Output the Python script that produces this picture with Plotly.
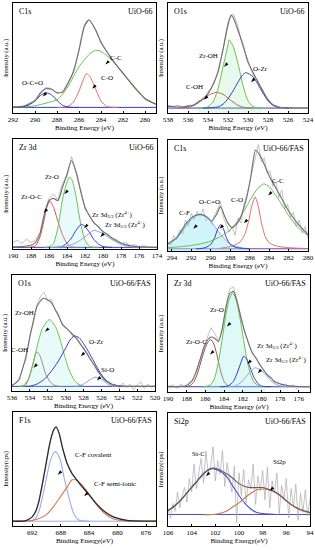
import plotly.graph_objects as go

W, H = 315, 550
SERIF = "Liberation Serif, Times New Roman, serif"

# ---------------- Panel 1: C1s UiO-66 ----------------
p1_env_x = [292, 291, 290, 289.5, 289, 288.5, 288, 287.5, 287, 286.5, 286, 285.5, 285.1, 284.5, 284, 283, 282, 281, 280, 279]
p1_env_y = [5.3, 6.2, 11, 18, 22, 21.5, 18.5, 19, 27, 38, 57, 79, 84.5, 76, 64, 49, 36, 24, 13, 8]
p1_raw_y = [5.5, 6.5, 12, 19, 23, 22, 18, 19.5, 28, 37, 58, 80, 85, 75, 65, 48, 37, 23, 13.5, 8]
p1_cc_x = [292, 291, 290, 289, 288, 287.5, 287, 286, 285, 284.5, 284, 283, 282, 281, 280, 279]
p1_cc_y = [5.2, 5.5, 6.5, 9, 12, 17, 24, 42, 54, 57, 56, 48, 36, 24, 13, 8]
p1_co_x = [288, 287.5, 287, 286.5, 286, 285.5, 285.3, 285, 284.5, 284, 283.5, 283, 282.5]
p1_co_y = [5.1, 5.1, 6, 10, 20, 33, 35.8, 33, 22, 11, 6, 5.2, 5.1]
p1_occ_x = [292, 291.5, 291, 290.5, 290, 289.5, 289, 288.5, 288, 287.5, 287, 286.5, 286]
p1_occ_y = [5.1, 5.2, 5.8, 7.5, 11, 16, 18.5, 16.5, 11.5, 7, 5.5, 5.1, 5.1]
p1_base = 5.1

# ---------------- Panel 2: O1s UiO-66 ----------------
p2_env_x = [538, 537.5, 537, 536.5, 536, 535.5, 535, 534.5, 534, 533.5, 533, 532.5, 532, 531.7, 531.5, 531, 530.5, 530, 529.5, 529, 528.5, 528, 527.5, 527, 526.5, 526, 525.5, 525, 524.5, 524]
p2_env_y = [6, 5.8, 5.5, 5.6, 6, 7, 9.5, 13, 17.5, 26, 37, 58, 80, 88.7, 87, 75, 62, 46, 37, 28, 20, 12, 7.5, 5.4, 5, 4.7, 4.6, 4.5, 4.5, 4.5]
p2_raw_y = [7, 6, 7, 5, 7, 7, 11, 12, 19, 25, 39, 57, 82, 89, 90, 78, 60, 48, 35, 29, 19, 13, 7, 6, 4, 5, 4, 5, 4, 5]
p2_zroh_x = [535, 534.5, 534, 533.5, 533, 532.5, 532, 531.9, 531.5, 531, 530.5, 530, 529.5, 529, 528.5]
p2_zroh_y = [4.5, 4.6, 5.5, 10, 22, 42, 62, 66.6, 61, 45, 25, 11, 6, 4.7, 4.5]
p2_ozr_x = [534.5, 534, 533.5, 533, 532.5, 532, 531.5, 531, 530.5, 530.2, 529.5, 529, 528.5, 528, 527.5, 527, 526.5, 526]
p2_ozr_y = [4.5, 4.6, 5, 5.5, 8, 13, 20, 28, 35, 36.7, 33, 26, 18, 11, 7, 5.2, 4.7, 4.5]
p2_coh_x = [537, 536.5, 536, 535.5, 535, 534.5, 534, 533.2, 532.5, 532, 531.5, 531, 530.5, 530, 529.5]
p2_coh_y = [4.5, 4.6, 5.2, 6.5, 9, 12.5, 16, 18.8, 17, 13.5, 10, 7, 5.3, 4.7, 4.5]
p2_base = 4.5

# ---------------- Panel 3: Zr 3d UiO-66 ----------------
p3_env_x = [190, 189.5, 189, 188.5, 188, 187.5, 187, 186.5, 186, 185.5, 185, 184.5, 184, 183.5, 183, 182.5, 182, 181.5, 181, 180.5, 180, 179.5, 179, 178.5, 178, 177.5, 177, 176.5, 176, 175.5, 175, 174.5, 174]
p3_env_y = [2, 2.1, 2.3, 2.8, 3.5, 6, 14, 32, 44, 46, 44, 56, 68, 80.5, 70, 53, 38, 30, 24, 20, 16, 13, 10, 7.5, 5.5, 4, 3, 2.4, 2, 1.8, 1.6, 1.5, 1.5]
p3_raw_y = [6, 8, 5, 9, 6, 8, 15, 33, 46, 50, 45, 60, 66, 84, 71, 55, 36, 31, 23, 21, 15, 14, 9, 9, 5, 6, 3, 4, 2, 3, 2, 2, 1]
p3_zroc_x = [188.5, 188, 187.5, 187, 186.5, 186.2, 185.9, 185.5, 185, 184.5, 184, 183.5, 183]
p3_zroc_y = [1.5, 1.7, 3, 11, 28, 39, 43.5, 38, 25, 13, 5, 2, 1.5]
p3_zro_x = [186.5, 186, 185.5, 185, 184.5, 184, 183.7, 183.4, 183, 182.5, 182, 181.5, 181, 180.5]
p3_zro_y = [1.5, 2, 5, 20, 45, 61, 65.5, 62, 48, 24, 8, 2.5, 1.6, 1.5]
p3_d32_x = [185.5, 185, 184.5, 184, 183.5, 183, 182.4, 182, 181.5, 181, 180.5, 180, 179.5, 179]
p3_d32_y = [1.5, 1.6, 2.5, 5.5, 10, 17, 22.5, 20.5, 15, 8.5, 4.5, 2.3, 1.7, 1.5]
p3_d52_x = [186, 185, 184, 183, 182, 181, 180, 179, 178, 177, 176, 175]
p3_d52_y = [1.5, 1.6, 2.7, 5.5, 11, 17, 14, 8.5, 4.2, 2.1, 1.6, 1.5]
p3_base = 1.5

# ---------------- Panel 4: C1s UiO-66/FAS ----------------
p4_env_x = [294.4, 293.5, 292.6, 291.8, 291.1, 290.5, 289.9, 289.4, 289.0, 288.6, 288.3, 287.8, 287.1, 286.4, 285.9, 285.7, 285.4, 285.0, 284.7, 283.9, 283, 282, 280.9, 280]
p4_env_y = [6.5, 12, 24, 31, 33, 31, 27, 33, 40, 32, 26, 21, 27, 45, 66, 78, 91, 87, 82, 66, 52, 36, 23, 15]
p4_raw_x = [294.4, 294.1, 293.8, 293.5, 293.2, 292.9, 292.6, 292.3, 292.0, 291.7, 291.4, 291.1, 290.8, 290.5, 290.2, 289.9, 289.6, 289.3, 289.0, 288.7, 288.4, 288.1, 287.8, 287.5, 287.2, 286.9, 286.6, 286.3, 286.0, 285.7, 285.4, 285.1, 284.8, 284.5, 284.2, 283.9, 283.6, 283.3, 283.0, 282.7, 282.4, 282.1, 281.8, 281.5, 281.2, 280.9, 280.6, 280.3, 280.0]
p4_raw_y = [8, 5, 14, 10, 19, 15, 28, 22, 34, 28, 36, 31, 38, 27, 30, 24, 33, 37, 44, 30, 24, 17, 22, 14, 30, 25, 42, 50, 62, 74, 85, 96, 80, 84, 70, 72, 58, 62, 48, 55, 38, 42, 30, 35, 22, 28, 16, 22, 12]
p4_cf_x = [294.4, 294, 293.5, 293, 292.5, 292, 291.5, 291.1, 290.5, 290, 289.5, 289, 288.5, 288, 287.5, 287, 286.5, 286]
p4_cf_y = [6, 8, 12, 17, 23, 28.5, 32, 33, 31.5, 27, 21, 15, 10, 6.5, 4.5, 3.2, 2.5, 2.1]
p4_occ_x = [291.5, 291, 290.5, 290, 289.6, 289.3, 289.0, 288.7, 288.4, 288, 287.5, 287, 286.5, 286]
p4_occ_y = [2, 2.3, 3.2, 6, 12, 19.5, 23.7, 20, 12, 6, 3.5, 2.6, 2.2, 2]
p4_co_x = [289, 288.5, 288, 287.5, 287, 286.5, 286.1, 285.8, 285.45, 285.1, 284.8, 284.4, 284, 283.5, 283, 282, 281, 280]
p4_co_y = [2.5, 3.2, 4, 5.5, 8, 15, 27, 40, 48.7, 40, 26, 13, 7.5, 5.2, 4, 3, 2.5, 2.2]
p4_cc_x = [294.4, 293, 292, 291, 290, 289, 288, 287, 286, 285.3, 284.55, 284, 283.3, 282.5, 282, 281, 280]
p4_cc_y = [3, 4, 5, 6.5, 9, 13, 19, 30, 45, 55, 60.5, 58, 50, 39, 32, 21, 14]
p4_base = 2

# ---------------- Panel 5: O1s UiO-66/FAS ----------------
p5_env_x = [536, 535.3, 534.5, 533.9, 533.2, 532.5, 531.7, 531, 530.3, 529.5, 528.75, 527.6, 526.7, 525.8, 524.8, 524, 522, 520]
p5_env_y = [4.5, 9, 28, 50, 73, 80, 77, 68, 57, 51, 45, 32, 21, 11, 5.5, 4.2, 4, 4]
p5_raw_x = [536, 535.6, 535.2, 534.8, 534.4, 534.0, 533.6, 533.2, 532.8, 532.4, 532.0, 531.6, 531.2, 530.8, 530.4, 530.0, 529.6, 529.2, 528.8, 528.4, 528.0, 527.6, 527.2, 526.8, 526.4, 526.0, 525.6, 525.2, 524.8, 524.4, 524.0, 523.6, 523.2, 522.8, 522.4, 522.0, 521.6, 521.2, 520.8, 520.4, 520.0]
p5_raw_y = [5, 7, 9, 20, 28, 49, 58, 75, 82, 85, 78, 79, 70, 66, 57, 55, 52, 47, 46, 40, 38, 33, 26, 23, 16, 14, 8, 8, 4, 6, 2, 7, 3, 6, 1, 5, 8, 2, 6, 3, 5]
p5_zroh_x = [535.2, 534.7, 534.2, 533.7, 533.2, 532.6, 531.8, 531.1, 530.6, 530.1, 529.6, 529, 528.5, 528]
p5_zroh_y = [4, 5, 10, 22, 38, 54, 61.7, 55, 44, 30, 18, 9, 5.5, 4.2]
p5_coh_x = [535, 534.5, 534.1, 533.7, 533.4, 533.2, 532.9, 532.6, 532.2, 531.7, 531.2, 530.7]
p5_coh_y = [4, 5, 11, 22, 31, 33.7, 31, 24, 14, 7.5, 4.8, 4]
p5_ozr_x = [534.5, 534, 533.2, 532.4, 531.6, 530.8, 530, 529.5, 529.05, 528.5, 528, 527.3, 526.6, 525.9, 525.2, 524.5, 523.5]
p5_ozr_y = [4, 4.2, 6, 10, 17, 26, 37, 44, 47.5, 46, 41, 32, 22, 13, 7.5, 5, 4.1]
p5_sio_x = [529, 528.6, 528, 527.5, 527, 526.7, 526.3, 525.8, 525.3, 525, 524.5, 524]
p5_sio_y = [4, 4.3, 6, 8.5, 11, 12, 11.3, 9, 6, 4.8, 4.1, 4]
p5_base = 4

# ---------------- Panel 6: Zr 3d UiO-66/FAS ----------------
p6_env_x = [190, 189.4, 189.0, 188.6, 188.2, 187.8, 187.4, 187.0, 186.6, 186.2, 185.8, 185.4, 185.0, 184.6, 184.2, 183.8, 183.4, 183.0, 182.6, 182.2, 181.8, 181.4, 181.0, 180.6, 180.2, 179.8, 179.4, 179.0, 178.6, 178.2, 177.8, 177.4, 177.0, 176.6, 176.2, 175.8, 175.4, 174.8]
p6_env_y = [4.5, 4.5, 4.6, 4.8, 5.2, 6.5, 10, 17, 27, 37, 44, 47, 46, 43, 54, 72, 84, 86, 77, 64, 52, 42, 34, 29, 24, 19, 15, 12, 9, 7.5, 6.5, 5.8, 5.2, 5, 4.8, 4.6, 4.5, 4.5]
p6_raw_y = [5, 6, 3, 7, 4, 8, 9, 18, 26, 38, 46, 55, 50, 44, 52, 74, 88, 90, 78, 65, 51, 43, 33, 30, 23, 20, 14, 13, 8, 8, 5, 7, 4, 6, 3, 5, 4, 5]
p6_zroc_x = [188.2, 187.6, 187.2, 186.8, 186.4, 186, 185.7, 185.4, 185.1, 184.8, 184.4, 184, 183.6, 183]
p6_zroc_y = [4.5, 5.5, 9, 17, 28, 38, 43, 44.8, 41, 33, 19, 9, 5.5, 4.5]
p6_zro_x = [186.2, 185.8, 185.4, 185, 184.6, 184.2, 183.8, 183.4, 183.1, 182.8, 182.4, 182, 181.6, 181.2, 180.8, 180.2, 179.6]
p6_zro_y = [4.5, 5, 6.5, 12, 26, 45, 66, 80, 84.4, 81, 68, 49, 30, 16, 8.5, 5, 4.5]
p6_d32_x = [184.4, 184, 183.5, 183, 182.6, 182.2, 181.9, 181.6, 181.2, 180.8, 180.4, 180, 179.5, 179]
p6_d32_y = [4.5, 4.6, 5.5, 9, 16, 25, 30.6, 28.5, 21, 12.5, 7.5, 5.2, 4.6, 4.5]
p6_d52_x = [183.6, 183.2, 182.8, 182.3, 181.8, 181.3, 180.7, 180.1, 179.6, 179.1, 178.6, 178.1, 177.5, 177]
p6_d52_y = [4.5, 4.7, 5.2, 7.5, 11.5, 16.5, 20.7, 19, 15, 10.5, 7.2, 5.4, 4.7, 4.5]
p6_base = 4.5

# ---------------- Panel 7: F1s UiO-66/FAS ----------------
p7_env_x = [694.7, 693, 692, 691.5, 691.1, 690.6, 690.1, 689.7, 689.4, 689, 688.64, 688.2, 687.8, 687.4, 687.1, 686.4, 685.8, 685.2, 684.1, 682.9, 681.7, 680.6, 678.7, 676, 674.6]
p7_env_y = [4.2, 4.6, 8, 13, 20.7, 36, 53, 67, 76, 84, 87, 81, 70, 61, 55, 46, 41, 36, 28, 19, 12, 8, 5, 4.3, 4.2]
p7_cov_x = [693, 692.5, 692, 691.5, 691, 690.5, 690, 689.5, 689, 688.8, 688.5, 688, 687.5, 687, 686.5, 686, 685.5, 685, 684.5, 684]
p7_cov_y = [4.2, 4.3, 4.8, 7, 14, 27, 42, 56, 64, 65, 64, 57, 42, 29, 17, 9, 5.5, 4.5, 4.3, 4.2]
p7_semi_x = [694.7, 693, 692, 691, 690, 689, 688, 687, 686.4, 685.7, 685, 684, 683, 682, 681, 680, 679, 678, 676, 674.6]
p7_semi_y = [4.2, 4.3, 4.8, 6.5, 10, 17, 26, 35, 40.5, 40, 36, 28, 19, 12, 7.5, 5.2, 4.4, 4.2, 4.2, 4.2]
p7_base = 4.2

# ---------------- Panel 8: Si2p UiO-66/FAS ----------------
p8_env_x = [106, 105.5, 105, 104.5, 104, 103.5, 103, 102.5, 102.2, 101.8, 101.5, 101, 100.5, 100, 99.5, 99, 98.5, 98, 97.5, 97, 96.5, 96, 95.5, 95, 94.5, 94]
p8_env_y = [13.5, 17.5, 22, 28, 34.5, 40.5, 46.5, 50.5, 51.2, 50.5, 49, 46, 42, 37.5, 35, 34, 34, 34, 32.5, 30.5, 27, 22.5, 18.5, 15.5, 13.5, 12]
p8_raw_x = [106.0, 105.8, 105.6, 105.4, 105.2, 105.0, 104.8, 104.6, 104.4, 104.2, 104.0, 103.8, 103.6, 103.4, 103.2, 103.0, 102.8, 102.6, 102.4, 102.2, 102.0, 101.8, 101.6, 101.4, 101.2, 101.0, 100.8, 100.6, 100.4, 100.2, 100.0, 99.8, 99.6, 99.4, 99.2, 99.0, 98.8, 98.6, 98.4, 98.2, 98.0, 97.8, 97.6, 97.4, 97.2, 97.0, 96.8, 96.6, 96.4, 96.2, 96.0, 95.8, 95.6, 95.4, 95.2, 95.0, 94.8, 94.6, 94.4, 94.2, 94.0]
p8_raw_y = [16, 7, 20, 13, 30, 16, 27, 34, 21, 42, 30, 55, 33, 48, 60, 38, 66, 47, 52, 70, 40, 58, 46, 67, 35, 56, 44, 30, 53, 3, 47, 27, 50, 20, 41, 33, 55, 19, 44, 31, 49, 23, 52, 16, 40, 29, 47, 11, 36, 24, 42, 7, 33, 17, 37, 5, 29, 12, 32, 9, 24]
p8_sic_x = [106, 105.5, 105, 104.5, 104, 103.5, 103, 102.5, 102.2, 101.5, 101, 100.5, 100, 99.5, 99, 98.5, 98, 97.5, 97]
p8_sic_y = [13.5, 17, 22, 28, 34, 40, 46, 50, 50.7, 48, 43, 35, 27, 20, 15, 12, 11, 10.6, 10.4]
p8_si2p_x = [103, 102.5, 102, 101.5, 101, 100.5, 100, 99.5, 99, 98.5, 98, 97.5, 97, 96.5, 96, 95.5, 95, 94.5, 94]
p8_si2p_y = [10, 10.1, 10.4, 11.5, 13.5, 17, 20.5, 25, 29, 32, 32.8, 32, 30, 26.5, 22, 18, 15, 13, 11.5]
p8_base = 10.2

# ---------------- colours ----------------
ENV = "#6f6f6f"
RAW = "#b4b4b4"
GREEN = "#66c24a"
RED = "#e06a6a"
BROWN = "#b8684a"
BLUE = "#3a3ac8"
LBLUE = "#84a8e6"

SUB32 = "Zr 3d<sub>3/2</sub> (Zr<sup>4+</sup>)"
SUB52 = "Zr 3d<sub>5/2</sub> (Zr<sup>4+</sup>)"

panels = [
    dict(box=(13, 3, 156, 113), xr=[292, 279], dtick=2, name="C1s", sample="UiO-66", ytitle="Intensity (a.u.)",
         base=(p1_base, BLUE),
         traces=[(p1_env_x, p1_raw_y, RAW, 1.0, None, False), (p1_cc_x, p1_cc_y, GREEN, 1.0, None, False),
                 (p1_co_x, p1_co_y, RED, 1.0, None, False), (p1_occ_x, p1_occ_y, BLUE, 1.0, None, False),
                 (p1_env_x, p1_env_y, ENV, 1.1, None, False)],
         labels=[("O-C=O", 290.2, 27, 289.3, 15), ("C-C", 282.6, 50, 283.6, 44), ("C-O", 283.5, 32, 284.8, 22)]),
    dict(box=(168, 3, 308, 113), xr=[538, 524], dtick=2, name="O1s", sample="UiO-66", ytitle="Intensity (a.u.)",
         base=(p2_base, BLUE),
         traces=[(p2_env_x, p2_raw_y, RAW, 1.0, None, False), (p2_zroh_x, p2_zroh_y, GREEN, 1.0, "rgba(150,230,170,0.22)", False),
                 (p2_coh_x, p2_coh_y, BROWN, 1.0, None, False), (p2_ozr_x, p2_ozr_y, BLUE, 1.0, None, False),
                 (p2_env_x, p2_env_y, ENV, 1.1, None, False)],
         labels=[("Zr-OH", 534.0, 52, 532.4, 42), ("C-OH", 535.4, 24, 534.4, 12), ("O-Zr", 528.8, 40, 529.7, 28)]),
    dict(box=(13, 139, 157, 249), xr=[190, 174], dtick=2, name="Zr 3d", sample="UiO-66", ytitle="Intensity (a.u.)",
         base=(p3_base, BLUE),
         traces=[(p3_env_x, p3_raw_y, RAW, 0.9, None, True), (p3_zroc_x, p3_zroc_y, "#e04848", 1.0, None, False),
                 (p3_zro_x, p3_zro_y, GREEN, 1.0, "rgba(150,235,230,0.22)", False), (p3_d32_x, p3_d32_y, BLUE, 1.0, None, False),
                 (p3_d52_x, p3_d52_y, LBLUE, 1.0, None, False), (p3_env_x, p3_env_y, ENV, 1.1, None, False)],
         labels=[("Zr-O", 185.7, 65, 184.3, 50), ("Zr-O-C", 187.9, 47, 186.6, 33),
                 (SUB32, 178.9, 31, 182.1, 19), (SUB52, 177.5, 22, 180.3, 11)]),
    dict(box=(168, 140, 308, 251), xr=[294.4, 280], dtick=2, name="C1s", sample="UiO-66/FAS", ytitle="Intensity (a.u.)",
         base=(p4_base, "#7a3fbf"),
         traces=[(p4_raw_x, p4_raw_y, RAW, 0.8, None, True), (p4_cf_x, p4_cf_y, LBLUE, 1.0, "rgba(150,230,240,0.45)", False),
                 (p4_occ_x, p4_occ_y, BLUE, 1.0, None, False), (p4_co_x, p4_co_y, RED, 1.0, None, False),
                 (p4_cc_x, p4_cc_y, GREEN, 1.0, None, False), (p4_env_x, p4_env_y, ENV, 1.1, None, False)],
         labels=[("C-F", 292.7, 34, 291.8, 20), ("O-C=O", 290.1, 44, 289.1, 20),
                 ("C-O", 287.3, 46, 286.6, 25), ("C-C", 283.1, 63, 284.1, 50)]),
    dict(box=(12, 275, 155, 391), xr=[536, 520], dtick=2, name="O1s", sample="UiO-66/FAS", ytitle="Intensity (a.u.)",
         base=(p5_base, BLUE),
         traces=[(p5_raw_x, p5_raw_y, RAW, 0.8, None, True), (p5_coh_x, p5_coh_y, BROWN, 1.0, None, False),
                 (p5_zroh_x, p5_zroh_y, GREEN, 1.0, "rgba(150,235,230,0.22)", False), (p5_ozr_x, p5_ozr_y, BLUE, 1.0, None, False),
                 (p5_sio_x, p5_sio_y, LBLUE, 1.0, None, False), (p5_env_x, p5_env_y, ENV, 1.1, None, False)],
         labels=[("Zr-OH", 534.6, 67, 532.3, 51), ("C-OH", 535.2, 35, 533.6, 20),
                 ("O-Zr", 526.5, 42, 528.3, 30), ("Si-O", 525.3, 18, 526.5, 9)]),
    dict(box=(168, 275, 310, 392), xr=[190, 174.8], dtick=2, name="Zr 3d", sample="UiO-66/FAS", ytitle="Intensity (a.u.)",
         base=(p6_base, BLUE),
         traces=[(p6_env_x, p6_raw_y, RAW, 0.8, None, True), (p6_zroc_x, p6_zroc_y, "#9a4a3e", 1.0, None, False),
                 (p6_zro_x, p6_zro_y, GREEN, 1.0, "rgba(150,235,230,0.3)", False), (p6_d32_x, p6_d32_y, BLUE, 1.0, None, False),
                 (p6_d52_x, p6_d52_y, LBLUE, 1.0, None, False), (p6_env_x, p6_env_y, ENV, 1.1, None, False)],
         labels=[("Zr-O", 184.8, 70, 183.7, 56), ("Zr-O-C", 187.0, 43, 185.5, 32),
                 (SUB32, 178.3, 40, 181.5, 24), (SUB52, 177.3, 28, 180.4, 16)]),
    dict(box=(13, 412, 156, 526), xr=[694.7, 674.6], dtick=4, name="F1s", sample="UiO-66/FAS", ytitle="Intensity(cps)",
         base=(p7_base, "#9aaaf0"),
         traces=[(p7_env_x, p7_env_y, RAW, 0.8, None, False), (p7_cov_x, p7_cov_y, "#9aaaf0", 1.1, None, False),
                 (p7_semi_x, p7_semi_y, "#d9784a", 1.1, None, False), (p7_env_x, p7_env_y, "#2a2a2a", 1.3, None, False)],
         labels=[("C-F covalent", 683.5, 62, 688.4, 45), ("C-F semi-ionic", 680.4, 37, 684.7, 26)]),
    dict(box=(168, 413, 310, 526), xr=[106, 94], dtick=2, name="Si2p", sample="UiO-66/FAS", ytitle="Intensity(cps)",
         base=(p8_base, "#4a4ad0"),
         traces=[(p8_raw_x, p8_raw_y, "#aaaaaa", 0.7, None, True), (p8_sic_x, p8_sic_y, "#4a4ad0", 1.1, None, False),
                 (p8_si2p_x, p8_si2p_y, "#c87a50", 1.1, None, False), (p8_env_x, p8_env_y, "#6a5858", 1.1, None, False)],
         labels=[("Si-C", 103.4, 64, 102.8, 44), ("Si2p", 96.6, 57, 97.4, 31)]),
]

xtitles = ["Binding Energy (eV)"] * 6 + ["Binding Energy(eV)"] * 2

fig = go.Figure()
layout = {}
annotations = []
for i, p in enumerate(panels, start=1):
    sfx = "" if i == 1 else str(i)
    xa, ya = "x" + sfx, "y" + sfx
    bval, bcol = p["base"]
    fig.add_trace(go.Scatter(x=p["xr"], y=[bval, bval], mode="lines", xaxis=xa, yaxis=ya,
                             line=dict(color=bcol, width=1.0), showlegend=False, hoverinfo="skip"))
    for (tx, ty, col, w, fillc, raw) in p["traces"]:
        kw = {}
        if fillc:
            kw = dict(fill="tozeroy", fillcolor=fillc)
        shape = "linear" if raw else "spline"
        fig.add_trace(go.Scatter(x=tx, y=ty, mode="lines", xaxis=xa, yaxis=ya,
                                 line=dict(color=col, width=w, shape=shape, smoothing=0.6),
                                 showlegend=False, hoverinfo="skip", **kw))
    # arrow heads pointing at the fitted peaks
    fig.add_trace(go.Scatter(x=[lb[3] for lb in p["labels"]], y=[lb[4] for lb in p["labels"]], mode="markers",
                             xaxis=xa, yaxis=ya, marker=dict(symbol="arrow", size=5, angle=225, color="#000"),
                             showlegend=False, hoverinfo="skip"))
    l, t, r, b = p["box"]
    layout["xaxis" + sfx] = dict(domain=[l / W, r / W], range=p["xr"], anchor=ya, dtick=p["dtick"],
                                 tick0=0, showgrid=False, zeroline=False, showline=True, mirror=True,
                                 linecolor="#000", linewidth=0.8, ticks="inside", ticklen=2, tickwidth=0.7,
                                 tickcolor="#000", automargin=False,
                                 tickfont=dict(family=SERIF, size=7, color="#000"),
                                 title=dict(text=xtitles[i - 1], font=dict(family=SERIF, size=7, color="#000"), standoff=0))
    layout["yaxis" + sfx] = dict(domain=[1 - b / H, 1 - t / H], range=[0, 100], anchor=xa, automargin=False,
                                 showticklabels=False, ticks="", showgrid=False, zeroline=False, showline=True,
                                 mirror=True, linecolor="#000", linewidth=0.8,
                                 title=dict(text=p["ytitle"], font=dict(family=SERIF, size=6.5, color="#000"), standoff=2))
    annotations.append(dict(text=p["name"], xref=xa + " domain", yref=ya + " domain", x=0.025, y=0.985,
                            xanchor="left", yanchor="top", showarrow=False,
                            font=dict(family=SERIF, size=8, color="#000")))
    annotations.append(dict(text=p["sample"], xref=xa + " domain", yref=ya + " domain", x=0.985, y=0.985,
                            xanchor="right", yanchor="top", showarrow=False,
                            font=dict(family=SERIF, size=8, color="#000")))
    for (txt, lx, ly, axx, ayy) in p["labels"]:
        annotations.append(dict(text=txt, xref=xa, yref=ya, x=lx, y=ly, showarrow=False,
                                font=dict(family=SERIF, size=7, color="#000")))

fig.update_layout(width=W, height=H, margin=dict(l=0, r=0, t=0, b=0), paper_bgcolor="white",
                  plot_bgcolor="white", annotations=annotations, **layout)
fig.write_html("out.html", config={"displayModeBar": False},
               post_script="document.body.style.margin='0';document.body.style.overflow='hidden';")
